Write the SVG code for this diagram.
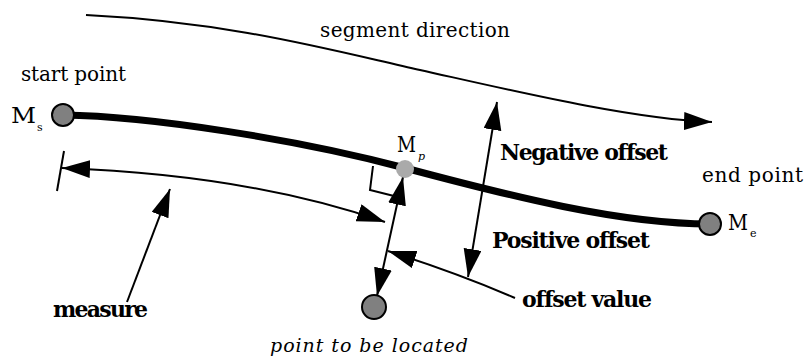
<svg xmlns="http://www.w3.org/2000/svg" width="805" height="358" viewBox="0 0 805 358">
<defs>
<style>
.t{font-family:"DejaVu Serif","Liberation Serif",serif;font-size:20px;fill:#000}
.b{font-family:"DejaVu Serif","Liberation Serif",serif;font-size:22px;font-weight:bold;fill:#000}
.i{font-family:"DejaVu Serif","Liberation Serif",serif;font-size:19px;font-style:italic;fill:#000}
.m{font-family:"DejaVu Serif","Liberation Serif",serif;font-size:22px;fill:#000}
.sub{font-family:"DejaVu Serif","Liberation Serif",serif;font-size:11px;fill:#000}
.ln{fill:none;stroke:#000;stroke-width:2}
.pt{fill:#808080;stroke:#000;stroke-width:2}
</style>
<marker id="ah" markerUnits="userSpaceOnUse" markerWidth="30" markerHeight="20" refX="28" refY="9" orient="auto-start-reverse" viewBox="0 0 30 20">
<path d="M0,0 L28,9 L0,18 z" fill="#000"/>
</marker>
</defs>
<rect width="805" height="358" fill="#fff"/>
<g id="connectors">
<path id="segment-direction" class="ln" d="M86,15 C230,22 330,50 420,70 S630,119 712,122" marker-end="url(#ah)"/>
<path id="segment" d="M63,115 C150,116 300,140 405,168 S620,224 710,224" fill="none" stroke="#000" stroke-width="7"/>
<path id="measure-arrow" class="ln" d="M62,168 Q250,175 385,222" marker-start="url(#ah)" marker-end="url(#ah)"/>
<path id="measure-tick" class="ln" d="M64,151 L57,191"/>
<path id="measure-label-arrow" class="ln" d="M127,302 L170,189" marker-end="url(#ah)"/>
<path id="offset-line" class="ln" d="M403,177 L377,296" marker-start="url(#ah)" marker-end="url(#ah)"/>
<path id="offset-value-arrow" class="ln" d="M515,298 Q460,274 388,251" marker-end="url(#ah)"/>
<path id="neg-pos-arrow" class="ln" d="M497,102 L468,277" marker-start="url(#ah)" marker-end="url(#ah)"/>
<path id="right-angle" class="ln" d="M373,166 L370,190 L394,196"/>
</g>
<g id="start-point">
<circle class="pt" cx="63" cy="115" r="11"/>
<text class="t" x="21" y="81" textLength="105">start point</text>
<text class="m" x="11" y="123" textLength="25" lengthAdjust="spacingAndGlyphs">M</text>
<text class="sub" x="37" y="131">s</text>
</g>
<g id="mp">
<circle cx="405" cy="169" r="9" fill="#aaaaaa"/>
<text class="m" x="397" y="152" textLength="19" lengthAdjust="spacingAndGlyphs">M</text>
<text class="sub" x="418" y="160" font-style="italic">p</text>
</g>
<g id="end-point">
<circle class="pt" cx="710" cy="224" r="11"/>
<text class="t" x="702" y="182" textLength="101">end point</text>
<text class="m" x="728" y="230" textLength="20" lengthAdjust="spacingAndGlyphs">M</text>
<text class="sub" x="750" y="237">e</text>
</g>
<g id="located-point">
<circle class="pt" cx="374" cy="307" r="12"/>
<text class="i" x="270" y="352" textLength="198">point to be located</text>
</g>
<g id="labels">
<text class="t" x="320" y="37" textLength="190">segment direction</text>
<text class="b" x="500" y="160" textLength="168">Negative offset</text>
<text class="b" x="492" y="248" textLength="158">Positive offset</text>
<text class="b" x="522" y="307" textLength="130">offset value</text>
<text class="b" x="53" y="317" textLength="95">measure</text>
</g>
</svg>
